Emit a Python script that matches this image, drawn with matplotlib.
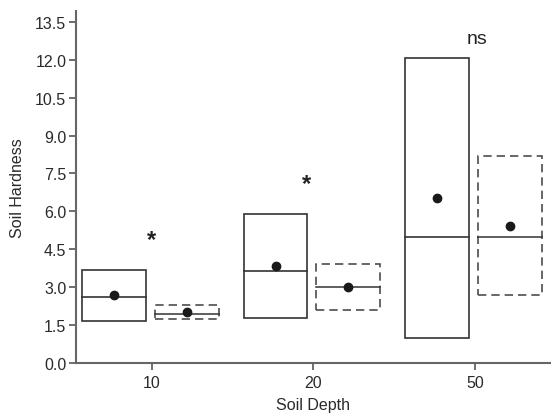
import matplotlib
matplotlib.use("Agg")
import matplotlib.pyplot as plt
from matplotlib.patches import Rectangle
from matplotlib.transforms import offset_copy

plt.rcParams['font.family'] = ['Liberation Sans', 'DejaVu Sans']

depths = ["10", "20", "50"]
# group A (solid boxes)
a_low = [1.67, 1.78, 1.00]
a_high = [3.69, 5.89, 12.06]
a_median = [2.62, 3.63, 4.98]
a_mean = [2.68, 3.85, 6.54]
# group B (dashed boxes)
b_low = [1.73, 2.10, 2.70]
b_high = [2.30, 3.91, 8.19]
b_median = [1.93, 3.01, 4.98]
b_mean = [2.02, 3.02, 5.44]
# significance labels
sig = ["*", "*", "ns"]
sig_x = [0.0, 0.955, 2.01]
sig_y = [5.09, 7.29, 12.86]

fig = plt.figure(figsize=(5.51, 4.14), dpi=100)
ax = fig.add_axes([76/551, 50/414, 1 - 76/551, (364-12)/414])

width = 0.395
offA, offB = -0.235, 0.215
edge = "#333333"
edgeB = "#4d4d4d"

for i in range(len(depths)):
    xa = i + offA
    ax.add_patch(Rectangle((xa - width/2, a_low[i]), width, a_high[i] - a_low[i],
                           fill=False, edgecolor=edge, lw=1.2))
    ax.plot([xa - width/2, xa + width/2], [a_median[i]]*2, color=edge, lw=1.2)
    ax.plot([xa], [a_mean[i]], 'o', color="#1a1a1a", ms=6)
    xb = i + offB
    ax.add_patch(Rectangle((xb - width/2, b_low[i]), width, b_high[i] - b_low[i],
                           fill=False, edgecolor=edgeB, lw=1.2, linestyle=(0, (5, 3))))
    ax.plot([xb - width/2, xb + width/2], [b_median[i]]*2, color=edge, lw=1.1)
    ax.plot([xb], [b_mean[i]], 'o', color="#1a1a1a", ms=6)

star_tr = offset_copy(ax.transData, fig=fig, x=0, y=-5, units='dots')
for i in range(len(sig)):
    if sig[i] == "*":
        ax.text(sig_x[i], sig_y[i], sig[i], ha='center', va='center', fontsize=17,
                fontweight='bold', color="#222222", transform=star_tr)
    else:
        ax.text(sig_x[i], sig_y[i], sig[i], ha='center', va='center', fontsize=14,
                color="#222222")

ax.set_xlim(-0.47, 2.47)
ax.set_ylim(0, 13.93)
ax.set_xticks(range(len(depths)))
ax.set_xticklabels(depths)
ax.set_yticks([0, 1.5, 3, 4.5, 6, 7.5, 9, 10.5, 12, 13.5])
ax.set_yticklabels(["0.0", "1.5", "3.0", "4.5", "6.0", "7.5", "9.0", "10.5", "12.0", "13.5"])

for s in ['top', 'right']:
    ax.spines[s].set_visible(False)
for s in ['left', 'bottom']:
    ax.spines[s].set_color("#666666")
    ax.spines[s].set_linewidth(1.5)
ax.tick_params(axis='both', labelsize=11.5, length=5, width=1.2,
               labelcolor="#2a2a2a", color="#555555", pad=2)
ax.tick_params(axis='x', pad=4)

ax.set_xlabel("Soil Depth", fontsize=11.5, color="#2a2a2a", labelpad=5)
ax.set_ylabel("Soil Hardness", fontsize=11.5, color="#2a2a2a", labelpad=7)

fig.savefig("out.png", dpi=100)
